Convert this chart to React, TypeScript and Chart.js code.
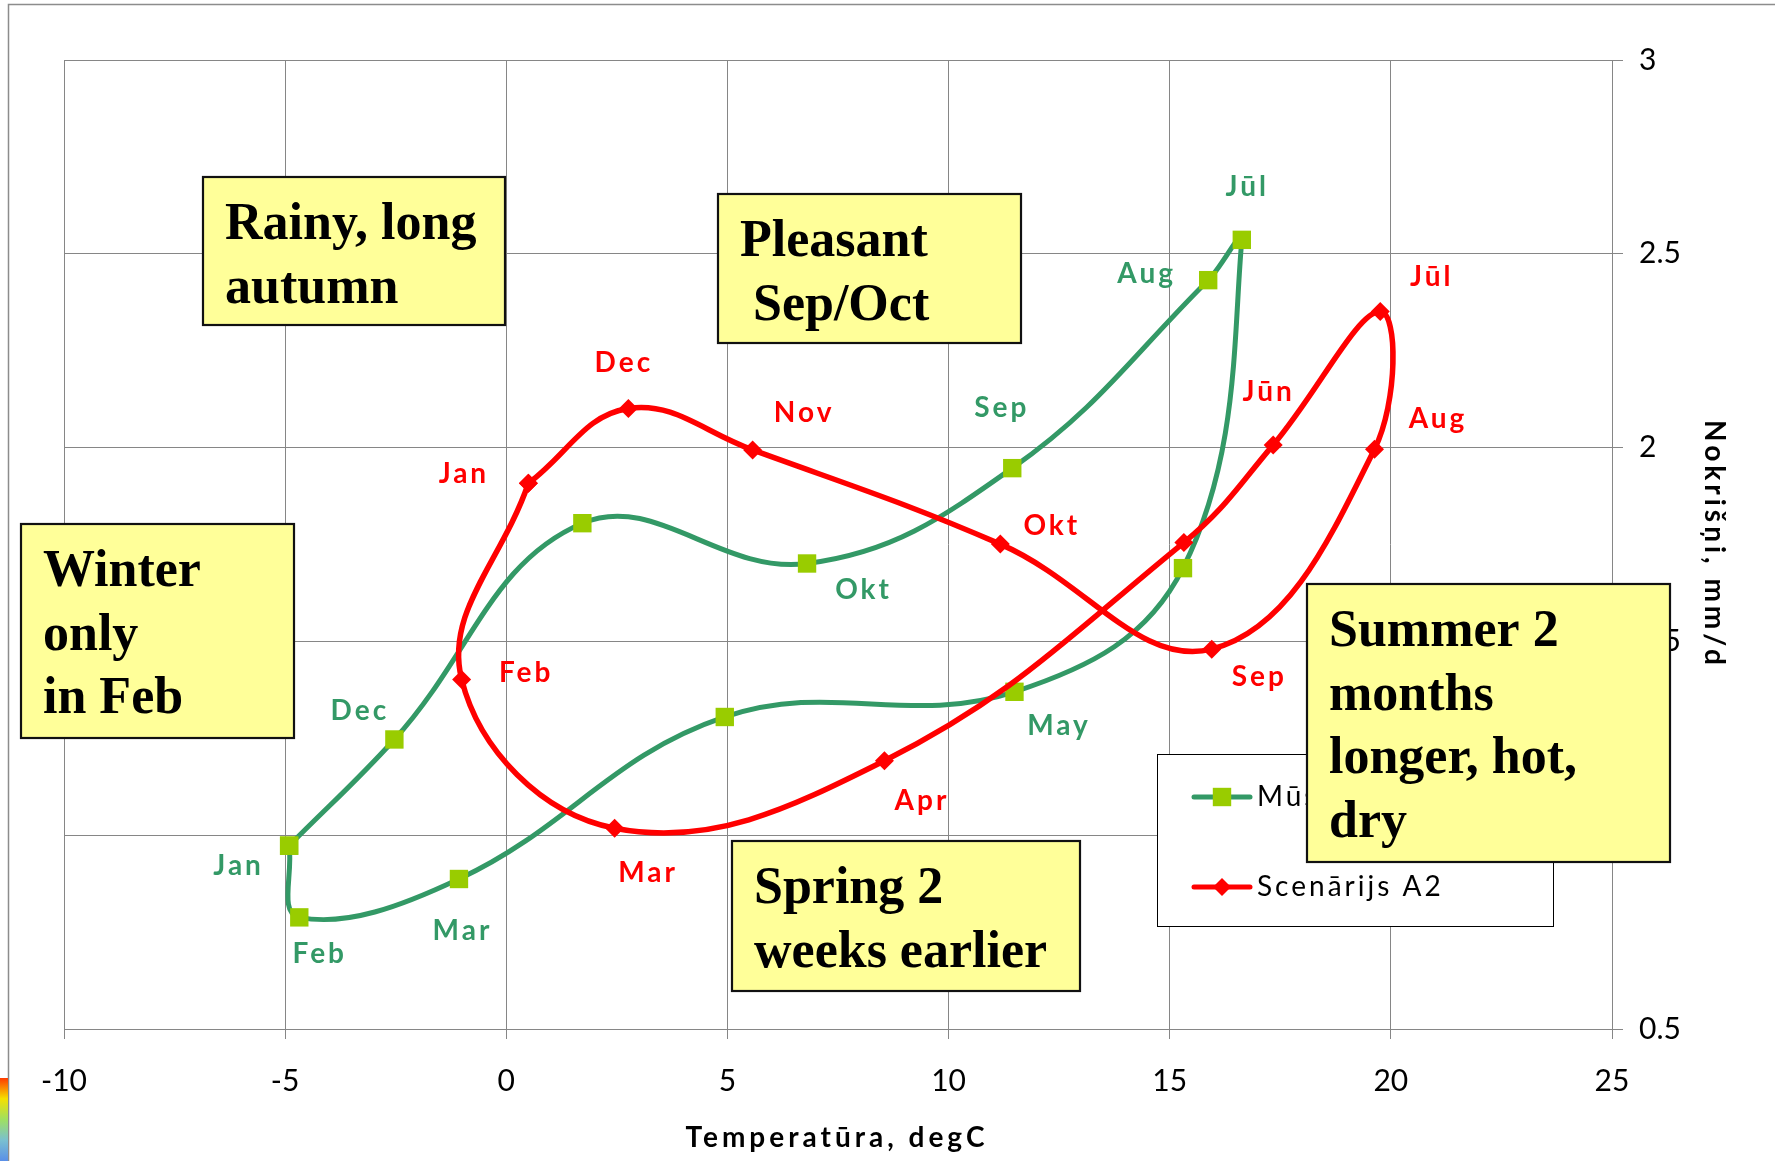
import React, { useEffect, useRef } from 'react';
import { Chart, registerables } from 'chart.js';

Chart.register(...registerables);

// ---------- data ----------
const months = ['Jan', 'Feb', 'Mar', 'Apr', 'May', 'Jūn', 'Jūl', 'Aug', 'Sep', 'Okt', 'Nov', 'Dec'];
const seriesNames = ['Mūsdienas', 'Scenārijs A2'];
const presentTemp = [-4.91, -4.68, -1.07, 4.94, 11.49, 15.3, 16.63, 15.87, 11.44, 6.8, 1.72, -2.53];
const presentPrecip = [0.973, 0.788, 0.887, 1.305, 1.37, 1.689, 2.536, 2.432, 1.947, 1.701, 1.805, 1.247];
const a2Temp = [0.5, -1.01, 2.45, 8.55, 15.32, 17.34, 19.76, 19.63, 15.95, 11.17, 5.57, 2.76];
const a2Precip = [1.908, 1.402, 1.018, 1.192, 1.755, 2.007, 2.351, 1.996, 1.48, 1.751, 1.994, 2.101];
const presentShown = [true, true, true, false, true, false, true, true, true, true, false, true];
const a2Shown = [true, true, true, true, false, true, true, true, true, true, true, true];
const xTickRange = { min: -10, max: 25, step: 5 };
const yTickRange = { min: 0.5, max: 3, step: 0.5 };
const xTitle = 'Temperatūra, degC';
const yTitle = 'Nokrišņi, mm/d';
const noteTexts = [
  ['Rainy, long', 'autumn'],
  ['Pleasant', ' Sep/Oct'],
  ['Winter', 'only', 'in Feb'],
  ['Spring 2', 'weeks earlier'],
  ['Summer 2', 'months', 'longer, hot,', 'dry'],
];

// ---------- styles / layout ----------
const GREEN = '#339966';
const LIME = '#99CC00';
const RED = '#FF0000';
const GRID = '#868686';
const presentLabelOffsets = [[-52, 20], [19, 37], [2, 52], [0, 0], [43, 34], [0, 0], [4, -53], [-63, -6], [-12, -60], [55, 26], [0, 0], [-36, -28]];
const a2LabelOffsets = [[-66, -9], [63, -6], [32, 45], [36, 40], [0, 0], [-6, -53], [50, -35], [62, -30], [46, 28], [50, -18], [50, -37], [-6, -45]];
const noteRects = [
  [203, 177, 302, 148],
  [718, 194, 303, 149],
  [21, 524, 273, 214],
  [732, 841, 348, 150],
  [1307, 584, 363, 278],
];

const closed = (a: number[]) => [...a, a[0]];
const toPoints = (xs: number[], ys: number[]) => {
  const cx = closed(xs);
  const cy = closed(ys);
  return cx.map((x, i) => ({ x, y: cy[i] }));
};

function drawMarker(ctx: CanvasRenderingContext2D, style: string, x: number, y: number, color: string) {
  ctx.fillStyle = color;
  ctx.beginPath();
  if (style === 'rect') {
    ctx.rect(x - 9.2, y - 9.2, 18.4, 18.4);
  } else {
    ctx.moveTo(x, y - 9);
    ctx.lineTo(x + 9, y);
    ctx.lineTo(x, y + 9);
    ctx.lineTo(x - 9, y);
    ctx.closePath();
  }
  ctx.fill();
}

const overlayPlugin = {
  id: 'overlay',
  afterDraw(chart: any) {
    const ctx: CanvasRenderingContext2D = chart.ctx;
    const xs = chart.scales.x;
    const ys = chart.scales.y;
    const area = chart.chartArea;
    ctx.save();

    // outer chart frame
    ctx.strokeStyle = '#8c8c8c';
    ctx.lineWidth = 1.5;
    ctx.beginPath();
    ctx.moveTo(8.5, 1161);
    ctx.lineTo(8.5, 4.5);
    ctx.lineTo(1775, 4.5);
    ctx.stroke();

    // small colourful artefact bottom-left
    const g = ctx.createLinearGradient(0, 1078, 0, 1161);
    g.addColorStop(0, '#ff3b00');
    g.addColorStop(0.25, '#f5e000');
    g.addColorStop(0.5, '#9fe060');
    g.addColorStop(0.75, '#7ac0d0');
    g.addColorStop(1, '#5a8fe8');
    ctx.fillStyle = g;
    ctx.fillRect(0, 1078, 8, 83);

    // axis titles
    (ctx as any).letterSpacing = '4px';
    ctx.fillStyle = '#000';
    ctx.font = 'bold 28px Lato';
    ctx.textAlign = 'center';
    ctx.textBaseline = 'middle';
    ctx.fillText(xTitle, (area.left + area.right) / 2 - 1, 1138);
    ctx.save();
    ctx.translate(1714, (area.top + area.bottom) / 2);
    ctx.rotate(Math.PI / 2);
    ctx.fillText(yTitle, 0, 0);
    ctx.restore();

    // month labels
    (ctx as any).letterSpacing = '3px';
    ctx.font = 'bold 28px Lato';
    const sets = [
      { t: presentTemp, p: presentPrecip, show: presentShown, off: presentLabelOffsets, c: GREEN },
      { t: a2Temp, p: a2Precip, show: a2Shown, off: a2LabelOffsets, c: RED },
    ];
    sets.forEach((s) => {
      ctx.fillStyle = s.c;
      months.forEach((m, i) => {
        if (!s.show[i]) return;
        const px = xs.getPixelForValue(s.t[i]) + s.off[i][0];
        const py = ys.getPixelForValue(s.p[i]) + s.off[i][1];
        ctx.fillText(m, px + 1.5, py);
      });
    });

    // legend
    ctx.fillStyle = '#fff';
    ctx.fillRect(1157.5, 754.5, 396, 172);
    ctx.strokeStyle = '#000';
    ctx.lineWidth = 1;
    ctx.strokeRect(1157.5, 754.5, 396, 172);
    const legendItems = [
      { name: seriesNames[0], line: GREEN, marker: LIME, style: 'rect', y: 797 },
      { name: seriesNames[1], line: RED, marker: RED, style: 'rectRot', y: 887 },
    ];
    legendItems.forEach((it) => {
      ctx.strokeStyle = it.line;
      ctx.lineWidth = 5;
      ctx.lineCap = 'round';
      ctx.beginPath();
      ctx.moveTo(1194, it.y);
      ctx.lineTo(1250, it.y);
      ctx.stroke();
      drawMarker(ctx, it.style, 1222, it.y, it.marker);
      ctx.fillStyle = '#000';
      ctx.font = '28px Lato';
      ctx.textAlign = 'left';
      ctx.textBaseline = 'middle';
      ctx.fillText(it.name, 1257, it.y);
    });

    // annotation notes
    (ctx as any).letterSpacing = '0px';
    noteRects.forEach((r, k) => {
      const [l, t, w, h] = r;
      ctx.fillStyle = '#FFFF99';
      ctx.fillRect(l, t, w, h);
      ctx.strokeStyle = '#111';
      ctx.lineWidth = 2.2;
      ctx.strokeRect(l, t, w, h);
      ctx.fillStyle = '#000';
      ctx.font = 'bold 52px "Liberation Serif"';
      ctx.textAlign = 'left';
      ctx.textBaseline = 'alphabetic';
      noteTexts[k].forEach((line, j) => {
        ctx.fillText(line, l + 22, t + 62 + j * 63.5);
      });
    });

    ctx.restore();
  },
};

export default function App() {
  const ref = useRef<HTMLCanvasElement>(null);
  useEffect(() => {
    document.body.style.margin = '0';
    const chart = new Chart(ref.current as HTMLCanvasElement, {
      type: 'scatter',
      data: {
        datasets: [
          {
            label: seriesNames[0],
            data: toPoints(presentTemp, presentPrecip),
            showLine: true,
            borderColor: GREEN,
            borderWidth: 5,
            tension: 0.4,
            pointStyle: 'rect',
            pointRadius: 13,
            pointBackgroundColor: LIME,
            pointBorderColor: LIME,
            pointBorderWidth: 0,
            order: 1,
          },
          {
            label: seriesNames[1],
            data: toPoints(a2Temp, a2Precip),
            showLine: true,
            borderColor: RED,
            borderWidth: 5.5,
            tension: 0.4,
            pointStyle: 'rectRot',
            pointRadius: 9.5,
            pointBackgroundColor: RED,
            pointBorderColor: RED,
            pointBorderWidth: 0,
            order: 0,
          },
        ],
      } as any,
      options: {
        responsive: false,
        animation: false,
        devicePixelRatio: 1,
        events: [],
        layout: { padding: { left: 64, top: 60, right: 42, bottom: 4 } },
        plugins: { legend: { display: false }, tooltip: { enabled: false }, title: { display: false } },
        scales: {
          x: {
            type: 'linear',
            position: 'bottom',
            min: xTickRange.min,
            max: xTickRange.max,
            ticks: { stepSize: xTickRange.step, color: '#000', font: { family: 'Lato', size: 30 }, padding: 24, maxRotation: 0, autoSkip: false },
            grid: { color: GRID, lineWidth: 1, tickLength: 10, drawTicks: true },
            border: { color: GRID, width: 1 },
            afterFit: (s: any) => { s.height = 128; },
          },
          y: {
            type: 'linear',
            position: 'right',
            min: yTickRange.min,
            max: yTickRange.max,
            ticks: {
              stepSize: yTickRange.step,
              color: '#000',
              font: { family: 'Lato', size: 30 },
              padding: 16,
              callback: (v: any) => String(Math.round(Number(v) * 10) / 10),
            },
            grid: { color: GRID, lineWidth: 1, tickLength: 11, drawTicks: true },
            border: { color: GRID, width: 1 },
            afterFit: (s: any) => { s.width = 121; },
          },
        },
      } as any,
      plugins: [overlayPlugin],
    });
    return () => chart.destroy();
  }, []);
  return (
    <div style={{ position: 'absolute', left: 0, top: 0, width: 1775, height: 1161, background: '#fff' }}>
      <canvas ref={ref} width={1775} height={1161} style={{ display: 'block', width: 1775, height: 1161 }} />
    </div>
  );
}
